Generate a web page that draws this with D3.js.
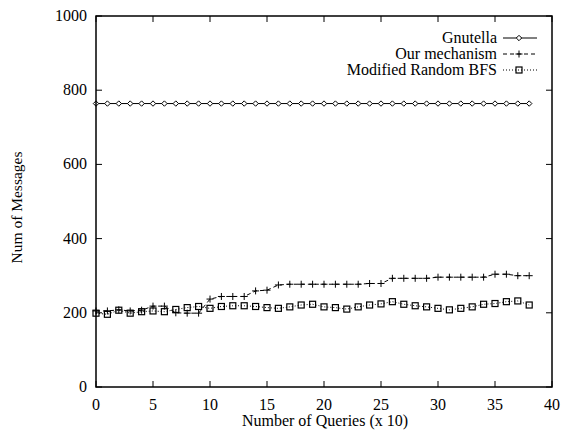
<!DOCTYPE html>
<html><head><meta charset="utf-8">
<script src="https://cdn.jsdelivr.net/npm/d3@7"></script>
<style>body{margin:0;background:#fff}svg{display:block}text{font-family:"Liberation Serif","Times New Roman",serif;fill:#000}</style>
</head><body><svg id="c" width="561" height="430"></svg>
<script>
const xValues = [0,1,2,3,4,5,6,7,8,9,10,11,12,13,14,15,16,17,18,19,20,21,22,23,24,25,26,27,28,29,30,31,32,33,34,35,36,37,38];
const gnutella = [764,764,764,764,764,764,764,764,764,764,764,764,764,764,764,764,764,764,764,764,764,764,764,764,764,764,764,764,764,764,764,764,764,764,764,764,764,764,764];
const ourMechanism = [205,205,208,205,207,218,218,200,199,199,237,244,244,244,259,261,275,277,277,277,277,277,277,277,279,279,293,293,293,293,296,296,296,296,296,304,304,300,300];
const modifiedBFS = [199,196,207,199,203,205,203,209,214,217,212,217,219,219,217,214,212,216,221,223,216,214,210,216,221,224,230,223,219,216,212,208,212,216,223,225,230,232,221];
const seriesNames = ["Gnutella","Our mechanism","Modified Random BFS"];
const xTicks = [0,5,10,15,20,25,30,35,40];
const yTicks = [0,200,400,600,800,1000];

const svg = d3.select("#c");
const L=96,R=552,T=16,B=387;
const x = d3.scaleLinear().domain([0,40]).range([L,R]);
const y = d3.scaleLinear().domain([0,1000]).range([B,T]);
const fs = 16;

// ticks (inward, mirrored)
const tl = 6;
const g = svg.append("g").attr("stroke","#000").attr("stroke-width",1);
xTicks.forEach(v=>{
  g.append("line").attr("x1",x(v)).attr("x2",x(v)).attr("y1",B).attr("y2",B-tl);
  g.append("line").attr("x1",x(v)).attr("x2",x(v)).attr("y1",T).attr("y2",T+tl);
});
yTicks.forEach(v=>{
  g.append("line").attr("x1",L).attr("x2",L+tl).attr("y1",y(v)).attr("y2",y(v));
  g.append("line").attr("x1",R).attr("x2",R-tl).attr("y1",y(v)).attr("y2",y(v));
});
xTicks.forEach(v=>{
  svg.append("text").attr("x",x(v)).attr("y",B+23).attr("text-anchor","middle").attr("font-size",fs).text(v);
});
yTicks.forEach(v=>{
  svg.append("text").attr("x",L-9).attr("y",y(v)+5).attr("text-anchor","end").attr("font-size",fs).text(v);
});
svg.append("text").attr("x",(L+R)/2+1).attr("y",426).attr("text-anchor","middle").attr("font-size",fs).text("Number of Queries (x 10)");
svg.append("text").attr("transform",`translate(22,${(T+B)/2+6}) rotate(-90)`).attr("text-anchor","middle").attr("font-size",fs-0.5).text("Num of Messages");

// series
const series = [
  {name:seriesNames[0], vals:gnutella, dash:null, marker:"diamond"},
  {name:seriesNames[1], vals:ourMechanism, dash:"4,3", marker:"plus"},
  {name:seriesNames[2], vals:modifiedBFS, dash:"1,2", marker:"square"}
];
function drawMarker(sel, type, cx, cy){
  if(type==="diamond"){
    sel.append("path").attr("d",`M${cx-2.7},${cy}L${cx},${cy-2.7}L${cx+2.7},${cy}L${cx},${cy+2.7}Z`).attr("fill","#fff").attr("stroke","#000").attr("stroke-width",1);
  } else if(type==="plus"){
    sel.append("path").attr("d",`M${cx-3.5},${cy}H${cx+3.5}M${cx},${cy-3.5}V${cy+3.5}`).attr("stroke","#000").attr("stroke-width",1).attr("fill","none");
  } else {
    sel.append("rect").attr("x",cx-3).attr("y",cy-3).attr("width",6).attr("height",6).attr("fill","none").attr("stroke","#000").attr("stroke-width",1.2);
  }
}
const line = d3.line().x((d,i)=>x(xValues[i])).y(d=>y(d));
series.forEach(s=>{
  const p = svg.append("path").datum(s.vals).attr("d",line).attr("fill","none").attr("stroke","#000").attr("stroke-width",1);
  if(s.dash) p.attr("stroke-dasharray",s.dash);
  const mg = svg.append("g");
  s.vals.forEach((v,i)=>drawMarker(mg,s.marker,x(xValues[i]),y(v)));
});

// legend
series.forEach((s,i)=>{
  const cy = 38 + i*16;
  svg.append("text").attr("x",497).attr("y",cy+5).attr("text-anchor","end").attr("font-size",fs).text(s.name);
  const l = svg.append("line").attr("x1",503).attr("x2",537).attr("y1",cy).attr("y2",cy).attr("stroke","#000").attr("stroke-width",1);
  if(s.dash) l.attr("stroke-dasharray",s.dash);
  drawMarker(svg,s.marker,519,cy);
});

// frame
svg.append("rect").attr("x",L).attr("y",T).attr("width",R-L).attr("height",B-T).attr("fill","none").attr("stroke","#000").attr("stroke-width",1.5);
</script></body></html>
